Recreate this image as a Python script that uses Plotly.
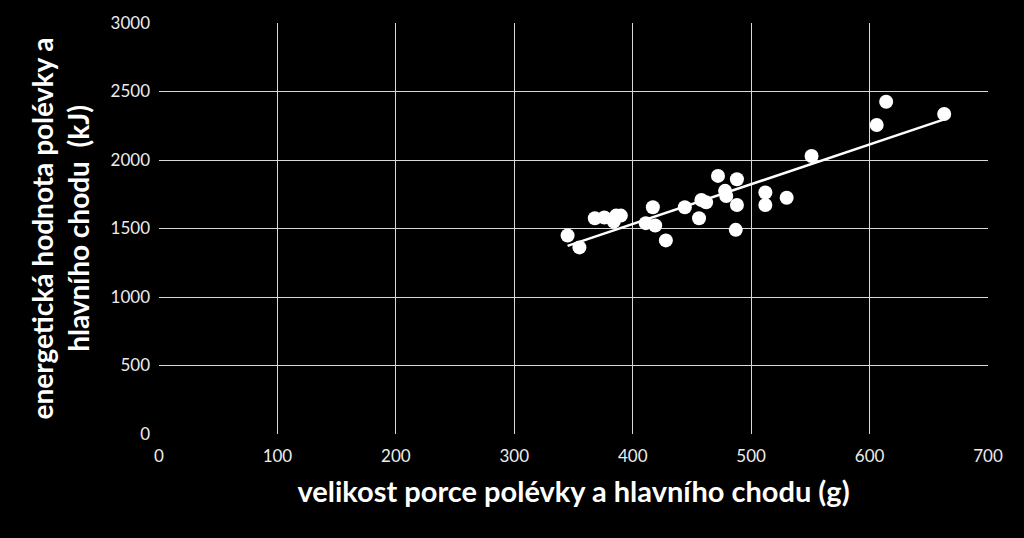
import numpy as np
import plotly.graph_objects as go

# portion size (g) vs energy value (kJ)
portion_g = [345, 355, 368, 376, 384, 386, 390, 411, 417, 419, 428, 444,
             456, 458, 462, 472, 478, 479, 488, 488, 487, 512, 512, 530,
             551, 606, 614, 663]
energy_kj = [1449, 1362, 1575, 1580, 1551, 1594, 1594, 1539, 1655, 1522, 1413, 1655,
             1575, 1708, 1691, 1884, 1775, 1737, 1860, 1671, 1490, 1763, 1671, 1725,
             2029, 2256, 2425, 2336]

x_ticks = [0, 100, 200, 300, 400, 500, 600, 700]
y_ticks = [0, 500, 1000, 1500, 2000, 2500, 3000]

# linear trend line like the excel one
k, q = np.polyfit(portion_g, energy_kj, 1)
trend_x = [min(portion_g), max(portion_g)]
trend_y = [k * v + q for v in trend_x]

fig = go.Figure()
fig.add_trace(go.Scatter(x=trend_x, y=trend_y, mode="lines",
                         line=dict(color="white", width=2.5), hoverinfo="skip"))
fig.add_trace(go.Scatter(x=portion_g, y=energy_kj, mode="markers",
                         marker=dict(color="white", size=14)))

grid = "#d9d9d9"
tickfont = dict(family="Lato, Open Sans, sans-serif", size=17, color="#ececec")
titlefont = dict(family="Lato, Open Sans, sans-serif", size=28, color="white")

fig.update_layout(
    width=1024, height=538,
    paper_bgcolor="black", plot_bgcolor="black",
    margin=dict(l=159, r=36, t=20, b=104),
    showlegend=False,
    xaxis=dict(range=[0, 700], tickvals=x_ticks, showgrid=True, gridcolor=grid,
               gridwidth=1, zeroline=False, showline=False, tickfont=tickfont,
               ticks="", ticklabelstandoff=10,
               title=dict(text="<b>velikost porce polévky a hlavního chodu (g)</b>",
                          font=dict(titlefont, size=29), standoff=16)),
    yaxis=dict(range=[0, 3000], tickvals=y_ticks, showgrid=True, gridcolor=grid,
               gridwidth=1, zeroline=False, showline=False, tickfont=tickfont,
               ticks="", ticklabelstandoff=8,
               title=dict(text="<b>energetická hodnota polévky a<br>hlavního chodu  (kJ)</b>",
                          font=titlefont, standoff=12)),
)

# drop the default page margin so the chart fills the window
fig.write_html("out.html", config={"displayModeBar": False},
               post_script="document.body.style.margin='0';")
